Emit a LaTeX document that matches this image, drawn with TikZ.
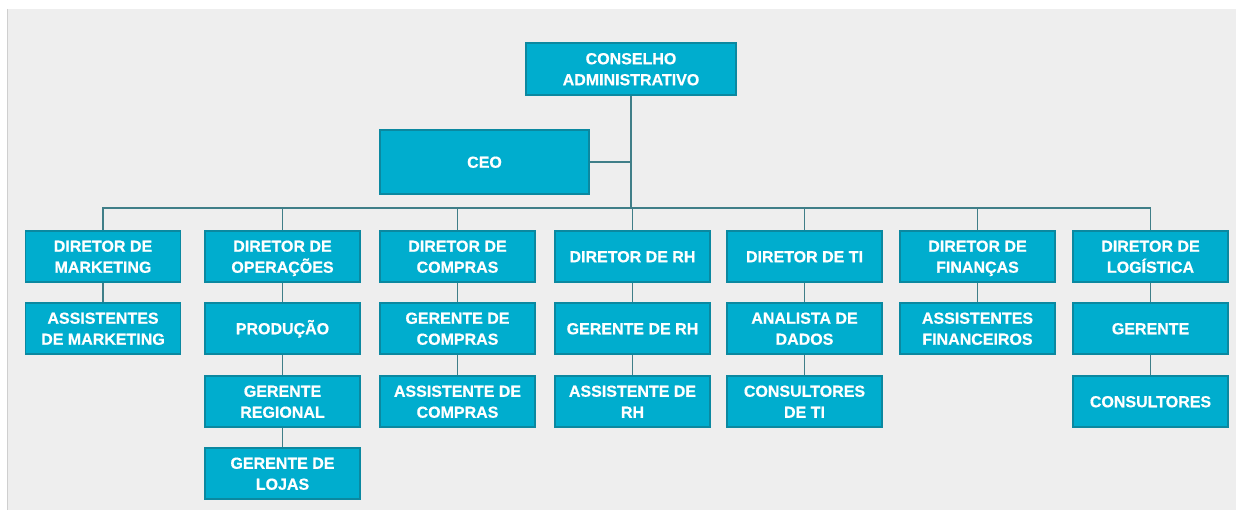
\documentclass[tikz,border=0pt]{standalone}
\usepackage{fontspec}
\setmainfont{Liberation Sans}[BoldFeatures={FakeBold=0.6}]
\usepackage{xcolor}
\usetikzlibrary{positioning}

\definecolor{boxfill}{HTML}{00ADCE}
\definecolor{boxline}{HTML}{0B88A0}
\definecolor{linkcol}{HTML}{3F7E88}
\definecolor{bgcol}{HTML}{EEEEEE}
\definecolor{edgecol}{HTML}{CFCFCF}

\begin{document}
\begin{tikzpicture}[x=1pt,y=-1pt]
	%\draw[help lines] (0,0) grid (1236,510);
	
	\tikzstyle{obox} = [rectangle,draw=boxline,line width=1.2pt,fill=boxfill,text=white,align=center,
		minimum width=155pt,minimum height=51pt,inner sep=0pt,font=\bfseries\fontsize{16}{21}\selectfont,
		text height=15.5pt,text depth=4pt]
	\tikzstyle{twoline} = [text height=36.5pt,text depth=4pt]
	\tikzstyle{link} = [draw=linkcol,line width=1.3pt]
	
	% background
	\useasboundingbox (0,0) rectangle (1236,510);
	\fill[white] (0,0) rectangle (1236,510);
	\fill[bgcol] (7,9) rectangle (1236,510);
	\draw[edgecol,line width=1pt] (7,9) -- (7,510);
	
	\node[obox,twoline,minimum width=210pt,minimum height=52pt] (cons) at (631, 69) {CONSELHO\\ADMINISTRATIVO};
	\node[obox,minimum width=209pt,minimum height=64pt] (ceo) at (484.5, 162) {CEO};
	
	\node[obox,twoline] (d1) at (103, 256.5) {DIRETOR DE\\MARKETING};
	\node[obox,twoline] (d2) at (282.5, 256.5) {DIRETOR DE\\OPERAÇÕES};
	\node[obox,twoline] (d3) at (457.5, 256.5) {DIRETOR DE\\COMPRAS};
	\node[obox] (d4) at (632.5, 256.5) {DIRETOR DE RH};
	\node[obox] (d5) at (804.5, 256.5) {DIRETOR DE TI};
	\node[obox,twoline] (d6) at (977.5, 256.5) {DIRETOR DE\\FINANÇAS};
	\node[obox,twoline] (d7) at (1150.5, 256.5) {DIRETOR DE\\LOGÍSTICA};
	
	\node[obox,twoline] (m1) at (103, 328.5) {ASSISTENTES\\DE MARKETING};
	
	\node[obox] (o1) at (282.5, 328.5) {PRODUÇÃO};
	\node[obox,twoline] (o2) at (282.5, 401.5) {GERENTE\\REGIONAL};
	\node[obox,twoline] (o3) at (282.5, 473.5) {GERENTE DE\\LOJAS};
	
	\node[obox,twoline] (c1) at (457.5, 328.5) {GERENTE DE\\COMPRAS};
	\node[obox,twoline] (c2) at (457.5, 401.5) {ASSISTENTE DE\\COMPRAS};
	
	\node[obox] (r1) at (632.5, 328.5) {GERENTE DE RH};
	\node[obox,twoline] (r2) at (632.5, 401.5) {ASSISTENTE DE\\RH};
	
	\node[obox,twoline] (t1) at (804.5, 328.5) {ANALISTA DE\\DADOS};
	\node[obox,twoline] (t2) at (804.5, 401.5) {CONSULTORES\\DE TI};
	
	\node[obox,twoline] (f1) at (977.5, 328.5) {ASSISTENTES\\FINANCEIROS};
	
	\node[obox] (l1) at (1150.5, 328.5) {GERENTE};
	\node[obox] (l2) at (1150.5, 401.5) {CONSULTORES};
	
	\coordinate (bus) at (631, 208);
	
	\draw (cons) edge [link] (bus);
	\draw (ceo) edge [link] (ceo -| cons);
	\draw[link] (d1.north) -- (d1.north |- bus) -- (d7.north |- bus) -- (d7.north);
	
	\draw (d2) edge [link] (d2 |- bus);
	\draw (d3) edge [link] (d3 |- bus);
	\draw (d4) edge [link] (d4 |- bus);
	\draw (d5) edge [link] (d5 |- bus);
	\draw (d6) edge [link] (d6 |- bus);
	
	\draw (d1) edge [link] (m1);
	
	\draw (d2) edge [link] (o1);
	\draw (o1) edge [link] (o2);
	\draw (o2) edge [link] (o3);
	
	\draw (d3) edge [link] (c1);
	\draw (c1) edge [link] (c2);
	
	\draw (d4) edge [link] (r1);
	\draw (r1) edge [link] (r2);
	
	\draw (d5) edge [link] (t1);
	\draw (t1) edge [link] (t2);
	
	\draw (d6) edge [link] (f1);
	
	\draw (d7) edge [link] (l1);
	\draw (l1) edge [link] (l2);

\end{tikzpicture}
\end{document}
